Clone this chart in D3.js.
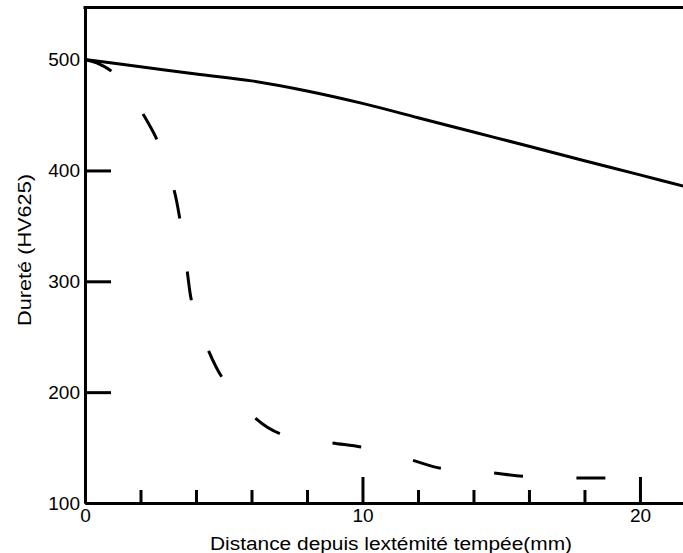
<!DOCTYPE html>
<html>
<head>
<meta charset="utf-8">
<script src="https://cdn.jsdelivr.net/npm/d3@7"></script>
<style>
  body { margin: 0; background: #fff; }
  svg { display: block; font-family: "Liberation Sans", Arial, sans-serif; }
</style>
</head>
<body>
<div id="chart"></div>
<script>
// distance from quenched end (mm) and hardness (HV)
const solidX = [0, 2, 4, 6, 8, 10, 12, 14, 16, 18, 20, 22];
const solidY = [500, 493.6, 487, 480.8, 471.7, 460.5, 447.6, 434.7, 421.8, 408.8, 396, 383];

const dashX = [0, 0.42, 0.98, 1.55, 2.1, 2.6, 2.92, 3.22, 3.42, 3.56, 3.69, 3.84, 4.14, 4.47, 4.93,
               5.55, 6.16, 7.03, 7.96, 8.91, 9.95, 10.88, 11.81, 12.82, 13.77, 14.71, 15.77,
               16.72, 17.68, 18.74, 19.6];
const dashY = [500, 497, 489, 472.5, 450.5, 427.3, 404, 381.3, 356, 332, 308, 282.3, 259.5, 236.3, 213.7,
               195, 176.2, 162.6, 158.4, 154.2, 150.5, 144.8, 138.5, 131.3, 129.5, 127.1, 124.1,
               123.1, 122.6, 122.6, 122.5];

const xMinorTicks = [2, 4, 6, 8, 12, 14, 16, 18];
const xMajorTicks = [0, 10, 20];
const yInnerTicks = [200, 300, 400];
const yLabels = [100, 200, 300, 400, 500];

const xTitle = 'Distance depuis lextémité tempée(mm)';
const yTitle = 'Dureté (HV625)';

const width = 683, height = 553;
const plotLeft = 85, plotTop = 7.5, plotRight = 701, plotBottom = 503;

const svg = d3.select('#chart').append('svg')
    .attr('width', width)
    .attr('height', height);

const x = d3.scaleLinear().domain([0, 22.2]).range([plotLeft, plotRight]);
const y = d3.scaleLinear().domain([100, 547]).range([plotBottom, plotTop]);

svg.append('clipPath').attr('id', 'plot')
  .append('rect')
    .attr('x', plotLeft).attr('y', plotTop)
    .attr('width', plotRight - plotLeft).attr('height', plotBottom - plotTop);

// curves
const line = d3.line()
    .x(d => x(d[0]))
    .y(d => y(d[1]))
    .curve(d3.curveCatmullRom);

svg.append('path')
    .datum(solidX.map((v, i) => [v, solidY[i]]))
    .attr('clip-path', 'url(#plot)')
    .attr('fill', 'none')
    .attr('stroke', '#000')
    .attr('stroke-width', 3)
    .attr('d', line);

svg.append('path')
    .datum(dashX.map((v, i) => [v, dashY[i]]))
    .attr('clip-path', 'url(#plot)')
    .attr('fill', 'none')
    .attr('stroke', '#000')
    .attr('stroke-width', 3)
    .attr('stroke-dasharray', '29,53.5')
    .attr('d', line);

// x axis
const gx = svg.append('g').attr('transform', 'translate(0,' + plotBottom + ')');
gx.append('g')
    .call(d3.axisBottom(x).tickValues(xMinorTicks).tickSize(-13).tickSizeOuter(0).tickFormat(''));
gx.append('g')
    .call(d3.axisBottom(x).tickValues(xMajorTicks).tickSize(-26).tickSizeOuter(0).tickPadding(6));
gx.selectAll('.domain').attr('stroke-width', 3);
gx.selectAll('.tick line').attr('stroke-width', 3);
gx.selectAll('.tick').filter(d => d === 0).select('line').remove();
gx.selectAll('text').attr('font-size', 19).attr('font-family', '"Liberation Sans", Arial, sans-serif');

// y axis
const gy = svg.append('g').attr('transform', 'translate(' + plotLeft + ',0)');
gy.append('g')
    .call(d3.axisLeft(y).tickValues(yInnerTicks).tickSize(-26).tickSizeOuter(0).tickFormat(''));
gy.append('g')
    .call(d3.axisLeft(y).tickValues(yLabels).tickSize(0).tickSizeOuter(0).tickPadding(5));
gy.selectAll('.domain').attr('stroke-width', 3);
gy.selectAll('.tick line').attr('stroke-width', 3);
gy.selectAll('text').attr('font-size', 19).attr('font-family', '"Liberation Sans", Arial, sans-serif');

// top frame line
svg.append('line')
    .attr('x1', plotLeft - 1.5).attr('x2', plotRight)
    .attr('y1', plotTop).attr('y2', plotTop)
    .attr('stroke', '#000')
    .attr('stroke-width', 3);

// titles
svg.append('text')
    .attr('x', 391)
    .attr('y', 550)
    .attr('text-anchor', 'middle')
    .attr('font-size', 18)
    .attr('textLength', 362)
    .attr('lengthAdjust', 'spacingAndGlyphs')
    .text(xTitle);

svg.append('text')
    .attr('transform', 'translate(31,250) rotate(-90)')
    .attr('text-anchor', 'middle')
    .attr('font-size', 18)
    .attr('textLength', 152)
    .attr('lengthAdjust', 'spacingAndGlyphs')
    .text(yTitle);
</script>
</body>
</html>
